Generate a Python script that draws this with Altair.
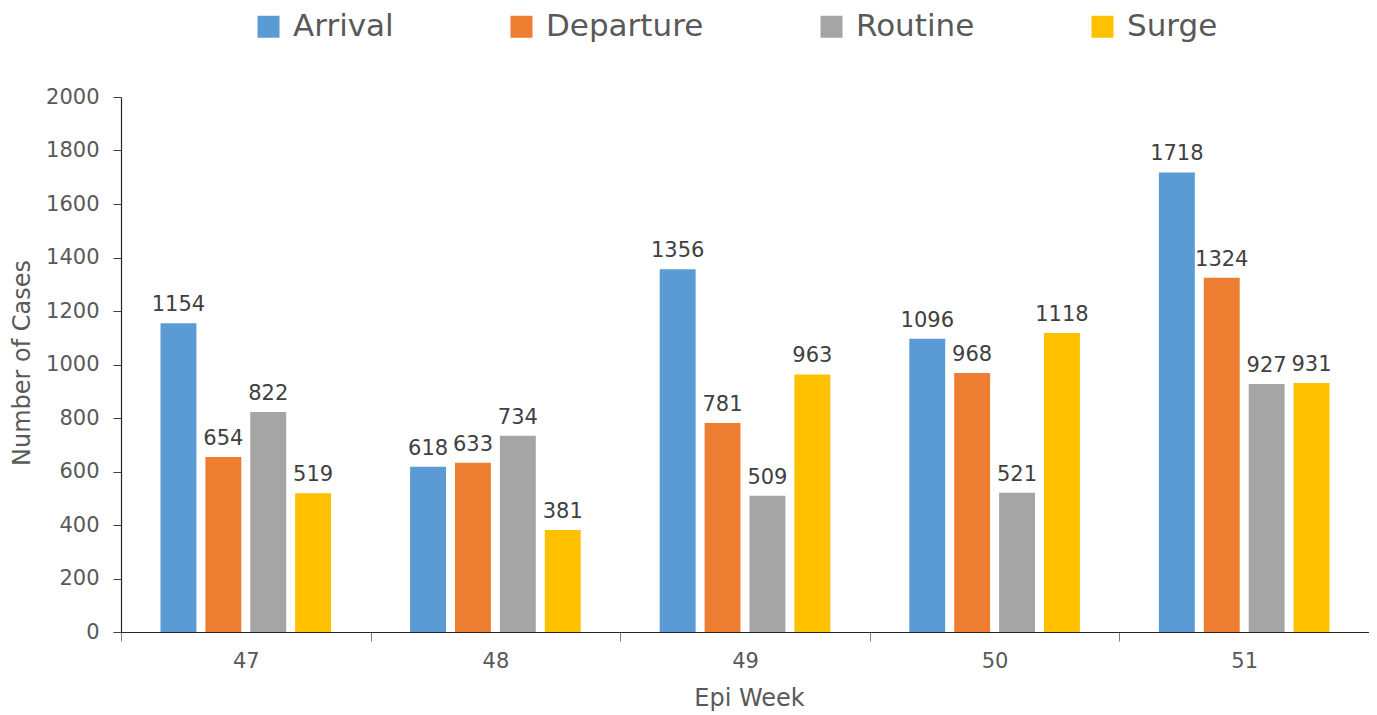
import altair as alt
import pandas as pd

weeks = ["47", "48", "49", "50", "51"]
series = ["Arrival", "Departure", "Routine", "Surge"]
arrival = [1154, 618, 1356, 1096, 1718]
departure = [654, 633, 781, 968, 1324]
routine = [822, 734, 509, 521, 927]
surge = [519, 381, 963, 1118, 931]
colors = ["#5B9BD5", "#ED7D31", "#A5A5A5", "#FFC000"]
y_ticks = [0, 200, 400, 600, 800, 1000, 1200, 1400, 1600, 1800, 2000]

rows = []
for name, vals in zip(series, [arrival, departure, routine, surge]):
    for w, v in zip(weeks, vals):
        rows.append({"week": w, "series": name, "value": v})
df = pd.DataFrame(rows)

FONT = "DejaVu Sans"
W, H = 1248, 535

x = alt.X("week:N", sort=weeks,
          scale=alt.Scale(paddingInner=0, paddingOuter=0),
          axis=alt.Axis(title="Epi Week", labelAngle=0, tickBand="extent",
                        labelFontSize=21, labelColor="#595959", labelFont=FONT,
                        labelPadding=9, tickSize=9, tickColor="#7F7F7F",
                        domainColor="#262626", domainWidth=1.2,
                        titleFontSize=24, titleFont=FONT, titleColor="#595959",
                        titleFontWeight="normal", titleX=W / 2 + 4, titleY=66,
                        titleBaseline="middle", titleAlign="center"))
xo = alt.XOffset("series:N", sort=series,
                 scale=alt.Scale(paddingInner=0.2, paddingOuter=0.88))
y = alt.Y("value:Q", scale=alt.Scale(domain=[0, 2000], nice=False),
          axis=alt.Axis(title="Number of Cases", values=y_ticks, grid=False,
                        format="d",
                        labelFontSize=21, labelColor="#595959", labelFont=FONT,
                        labelPadding=14, tickSize=8, tickColor="#404040",
                        domainColor="#262626", domainWidth=1.2,
                        titleFontSize=24, titleFont=FONT, titleColor="#595959",
                        titleFontWeight="normal", titleAngle=-90,
                        titleX=-99, titleY=H / 2 - 2,
                        titleBaseline="middle", titleAlign="center"))
color = alt.Color("series:N", sort=series,
                  scale=alt.Scale(domain=series, range=colors),
                  legend=alt.Legend(title=None, orient="none", direction="horizontal",
                                    columns=4, legendX=132, legendY=-86,
                                    symbolType="square", symbolSize=484,
                                    symbolStrokeWidth=0, labelFontSize=31,
                                    labelFont=FONT, labelColor="#595959",
                                    labelOffset=9, columnPadding=112,
                                    labelLimit=400))

bars = alt.Chart(df).mark_bar().encode(x=x, xOffset=xo, y=y, color=color)
labels = alt.Chart(df).mark_text(baseline="alphabetic", dy=-12, fontSize=21,
                                 font=FONT, color="#404040").encode(
    x=x, xOffset=xo, y=y, text=alt.Text("value:Q"))

chart = (bars + labels).properties(
    width=W, height=H, autosize="none",
    padding={"left": 113, "top": 89, "right": 0, "bottom": 84},
).configure_view(stroke=None)

chart.save("out.html", embed_options={"renderer": "svg", "actions": False})
